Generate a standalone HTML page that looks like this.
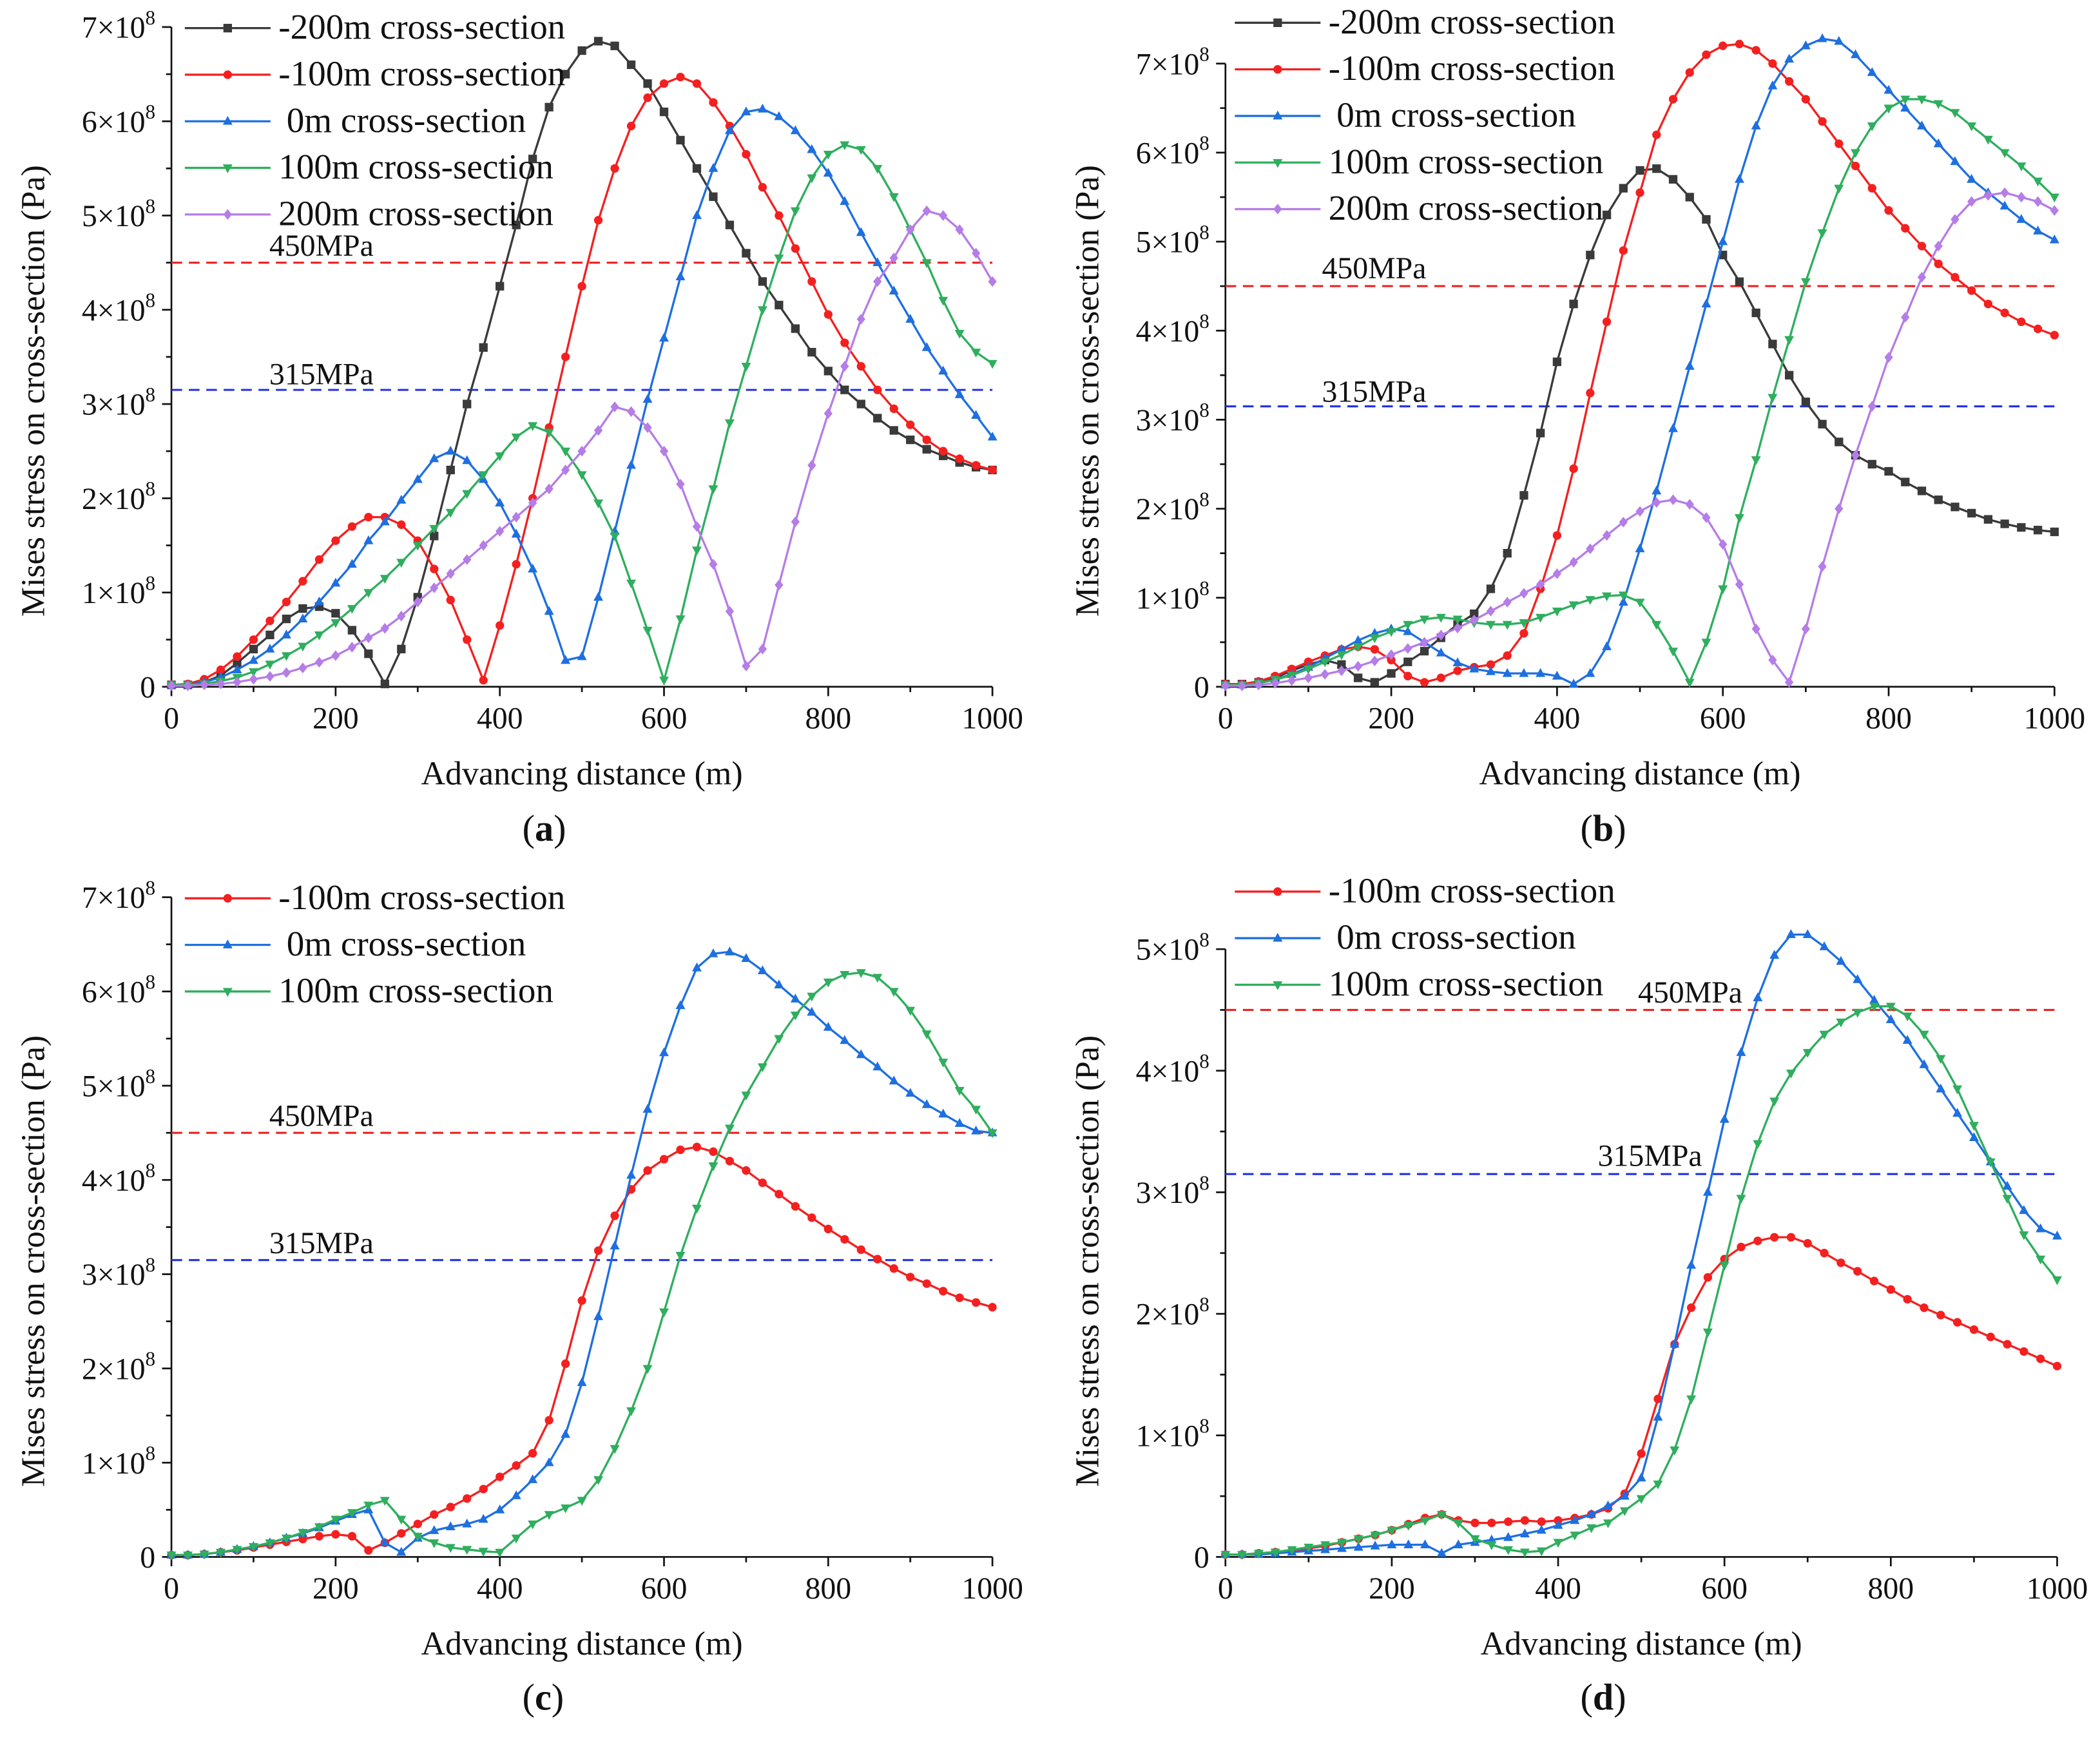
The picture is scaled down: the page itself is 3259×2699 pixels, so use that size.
<!DOCTYPE html>
<html><head><meta charset="utf-8"><style>
html,body{margin:0;padding:0;background:#fff;}
svg{display:block;}
svg text{font-family:"Liberation Serif","DejaVu Serif",serif;fill:#111;}
</style></head><body>
<svg id="fig" xmlns="http://www.w3.org/2000/svg" width="3259" height="2699" viewBox="0 0 1568 1299" preserveAspectRatio="none" font-family="Liberation Serif, DejaVu Serif, serif"></svg>
<script>
// Data (values in units of 1e8 Pa), sampled every 20 m from 0 to 1000 m
const aM200=[0.02,0.02,0.05,0.12,0.25,0.4,0.55,0.72,0.83,0.85,0.78,0.6,0.35,0.03,0.4,0.95,1.6,2.3,3.0,3.6,4.25,4.9,5.6,6.15,6.5,6.75,6.85,6.8,6.6,6.4,6.1,5.8,5.5,5.2,4.9,4.6,4.3,4.05,3.8,3.55,3.35,3.15,3.0,2.85,2.72,2.62,2.52,2.45,2.38,2.33,2.3];
const aM100=[0.02,0.03,0.08,0.18,0.32,0.5,0.7,0.9,1.12,1.35,1.55,1.7,1.8,1.8,1.72,1.55,1.25,0.92,0.5,0.07,0.65,1.3,2.0,2.75,3.5,4.25,4.95,5.5,5.95,6.25,6.4,6.47,6.4,6.2,5.95,5.65,5.3,5.0,4.65,4.3,3.95,3.65,3.4,3.15,2.95,2.78,2.62,2.5,2.42,2.35,2.3];
const a0=[0.02,0.02,0.05,0.1,0.18,0.28,0.4,0.55,0.72,0.9,1.1,1.3,1.55,1.75,1.98,2.2,2.42,2.5,2.4,2.2,1.95,1.62,1.25,0.8,0.28,0.32,0.95,1.65,2.35,3.05,3.7,4.35,5.0,5.5,5.9,6.1,6.13,6.05,5.9,5.7,5.45,5.15,4.82,4.5,4.2,3.9,3.6,3.35,3.1,2.88,2.65];
const aP100=[0.02,0.02,0.03,0.06,0.1,0.16,0.24,0.33,0.43,0.55,0.68,0.83,1.0,1.15,1.32,1.5,1.68,1.85,2.05,2.25,2.45,2.65,2.77,2.7,2.5,2.25,1.95,1.6,1.1,0.6,0.07,0.72,1.45,2.1,2.8,3.4,4.0,4.55,5.05,5.4,5.65,5.75,5.7,5.5,5.2,4.85,4.5,4.1,3.75,3.55,3.43];
const aP200=[0.01,0.01,0.02,0.03,0.05,0.08,0.11,0.15,0.2,0.26,0.33,0.42,0.52,0.62,0.75,0.9,1.05,1.2,1.35,1.5,1.65,1.8,1.95,2.1,2.3,2.5,2.72,2.97,2.92,2.75,2.5,2.15,1.7,1.3,0.8,0.22,0.4,1.08,1.75,2.35,2.9,3.4,3.9,4.3,4.55,4.85,5.05,5.0,4.85,4.6,4.3];
const bM200=[0.03,0.03,0.05,0.1,0.18,0.25,0.3,0.25,0.1,0.05,0.15,0.28,0.4,0.55,0.7,0.82,1.1,1.5,2.15,2.85,3.65,4.3,4.85,5.3,5.6,5.8,5.82,5.7,5.5,5.25,4.85,4.55,4.2,3.85,3.5,3.2,2.95,2.75,2.6,2.5,2.42,2.3,2.2,2.1,2.02,1.95,1.88,1.83,1.79,1.76,1.74];
const bM100=[0.03,0.03,0.06,0.12,0.2,0.28,0.35,0.42,0.45,0.42,0.3,0.12,0.05,0.1,0.18,0.22,0.25,0.35,0.6,1.1,1.7,2.45,3.3,4.1,4.9,5.55,6.2,6.6,6.9,7.1,7.2,7.22,7.15,7.0,6.8,6.6,6.35,6.1,5.85,5.6,5.35,5.15,4.95,4.75,4.6,4.45,4.3,4.2,4.1,4.02,3.95];
const b0=[0.02,0.02,0.04,0.08,0.14,0.22,0.32,0.42,0.52,0.6,0.65,0.62,0.5,0.38,0.27,0.2,0.17,0.15,0.15,0.15,0.12,0.03,0.15,0.45,0.95,1.55,2.2,2.9,3.6,4.3,5.0,5.7,6.3,6.75,7.05,7.2,7.28,7.25,7.1,6.9,6.7,6.5,6.3,6.1,5.9,5.7,5.55,5.4,5.25,5.12,5.02];
const bP100=[0.02,0.02,0.04,0.08,0.13,0.2,0.28,0.36,0.45,0.55,0.62,0.7,0.76,0.78,0.76,0.72,0.7,0.7,0.72,0.78,0.85,0.92,0.98,1.02,1.03,0.95,0.7,0.4,0.05,0.5,1.1,1.9,2.55,3.25,3.9,4.55,5.1,5.6,6.0,6.3,6.5,6.6,6.6,6.55,6.45,6.3,6.15,6.0,5.85,5.68,5.5];
const bP200=[0.01,0.01,0.02,0.04,0.07,0.1,0.14,0.18,0.23,0.29,0.36,0.43,0.5,0.58,0.66,0.75,0.85,0.95,1.05,1.15,1.27,1.4,1.55,1.7,1.85,1.97,2.07,2.1,2.05,1.9,1.6,1.15,0.65,0.3,0.05,0.65,1.35,2.0,2.6,3.15,3.7,4.15,4.6,4.95,5.25,5.45,5.52,5.55,5.5,5.45,5.35];
const cM100=[0.02,0.02,0.03,0.05,0.07,0.1,0.13,0.16,0.19,0.22,0.24,0.22,0.07,0.15,0.25,0.35,0.45,0.53,0.62,0.72,0.85,0.97,1.1,1.45,2.05,2.72,3.25,3.62,3.9,4.1,4.22,4.32,4.35,4.3,4.2,4.1,3.97,3.85,3.72,3.6,3.48,3.37,3.26,3.16,3.06,2.97,2.9,2.82,2.75,2.7,2.65];
const c0=[0.02,0.02,0.03,0.05,0.08,0.11,0.15,0.2,0.25,0.31,0.38,0.45,0.5,0.15,0.05,0.2,0.28,0.32,0.35,0.4,0.5,0.65,0.82,1.0,1.3,1.85,2.55,3.3,4.05,4.75,5.35,5.85,6.25,6.4,6.42,6.35,6.22,6.07,5.92,5.78,5.62,5.48,5.33,5.2,5.05,4.92,4.8,4.7,4.6,4.52,4.5];
const cP100=[0.02,0.02,0.03,0.05,0.08,0.11,0.15,0.2,0.26,0.32,0.4,0.47,0.55,0.6,0.4,0.22,0.15,0.1,0.08,0.06,0.05,0.2,0.35,0.45,0.52,0.6,0.82,1.15,1.55,2.0,2.6,3.2,3.7,4.15,4.55,4.9,5.2,5.5,5.75,5.95,6.1,6.18,6.2,6.15,6.0,5.8,5.55,5.25,4.95,4.75,4.5];
const dM100=[0.02,0.02,0.03,0.04,0.05,0.07,0.09,0.12,0.15,0.18,0.22,0.27,0.32,0.35,0.3,0.28,0.28,0.29,0.3,0.29,0.3,0.32,0.35,0.4,0.52,0.85,1.3,1.75,2.05,2.3,2.45,2.55,2.6,2.63,2.63,2.58,2.5,2.42,2.35,2.27,2.2,2.12,2.05,1.99,1.93,1.87,1.81,1.75,1.69,1.63,1.57];
const d0=[0.02,0.02,0.02,0.03,0.04,0.05,0.06,0.07,0.08,0.09,0.1,0.1,0.1,0.03,0.1,0.12,0.14,0.16,0.19,0.22,0.26,0.3,0.35,0.42,0.5,0.65,1.15,1.75,2.4,3.0,3.6,4.15,4.6,4.95,5.12,5.12,5.02,4.9,4.75,4.58,4.42,4.25,4.05,3.85,3.65,3.45,3.25,3.05,2.85,2.7,2.64];
const dP100=[0.02,0.02,0.03,0.04,0.06,0.08,0.1,0.12,0.15,0.18,0.22,0.26,0.3,0.35,0.28,0.15,0.1,0.06,0.04,0.05,0.12,0.18,0.24,0.28,0.38,0.48,0.6,0.88,1.3,1.85,2.4,2.95,3.4,3.75,3.98,4.15,4.3,4.4,4.48,4.53,4.53,4.45,4.3,4.1,3.85,3.55,3.25,2.95,2.65,2.45,2.28];
const xTicks=[0,200,400,600,800,1000];
const limits=[4.5,3.15];
const limitLabels=['450MPa','315MPa'];

const NS='http://www.w3.org/2000/svg';
const svg=document.getElementById('fig');
function el(tag,attrs,parent){const e=document.createElementNS(NS,tag);for(const k in attrs)e.setAttribute(k,attrs[k]);(parent||svg).appendChild(e);return e;}
const COL={k:'#3a3a3a',r:'#f42020',b:'#1e6fe0',g:'#2fae5e',p:'#b57de6'};
const S5=[['-200m cross-section','k','sq'],['-100m cross-section','r','ci'],['0m cross-section','b','tu'],['100m cross-section','g','td'],['200m cross-section','p','di']];
const S3=S5.slice(1,4);
const panels=[
 {id:'a',L:128,R:741,B:513,ppu:70.4,ymax:7,data:[aM200,aM100,a0,aP100,aP200],S:S5,lx:138,ly:21,ytx:25,yty:292,lab:[390,628],lim:[[240,183],[240,279]]},
 {id:'b',L:915,R:1534,B:513,ppu:66.5,ymax:7,data:[bM200,bM100,b0,bP100,bP200],S:S5,lx:922,ly:17,ytx:812,yty:292,lab:[1180,628],lim:[[1026,200],[1026,292]]},
 {id:'c',L:128,R:741,B:1163,ppu:70.4,ymax:7,data:[cM100,c0,cP100],S:S3,lx:138,ly:671,ytx:25,yty:942,lab:[390,1277],lim:[[240,833],[240,928]]},
 {id:'d',L:915,R:1536,B:1163,ppu:90.8,ymax:5,data:[dM100,d0,dP100],S:S3,lx:922,ly:666,ytx:812,yty:942,lab:[1180,1277],lim:[[1262,741],[1232,863]]}
];
function marker(g,type,x,y,c){
 const r=3.2;
 if(type==='sq')el('rect',{x:x-r,y:y-r,width:2*r,height:2*r,fill:c},g);
 else if(type==='ci')el('circle',{cx:x,cy:y,r:r,fill:c},g);
 else if(type==='tu')el('polygon',{points:`${x},${y-r-0.8} ${x-r-0.4},${y+r-0.6} ${x+r+0.4},${y+r-0.6}`,fill:c},g);
 else if(type==='td')el('polygon',{points:`${x},${y+r+0.8} ${x-r-0.4},${y-r+0.6} ${x+r+0.4},${y-r+0.6}`,fill:c},g);
 else el('polygon',{points:`${x},${y-r-0.8} ${x+r},${y} ${x},${y+r+0.8} ${x-r},${y}`,fill:c},g);
}
panels.forEach(P=>{
 const g=el('g',{});
 
 
 const xs=v=>P.L+(P.R-P.L)*v/1000;
 const ys=v=>P.B-v*P.ppu;
 const ax=el('g',{stroke:'#111','stroke-width':1.3,fill:'none'},g);
 
 
 el('line',{x1:P.L,y1:P.B,x2:P.R,y2:P.B},ax);
 el('line',{x1:P.L,y1:P.B,x2:P.L,y2:ys(P.ymax)},ax);
 for(let v=0;v<=1000;v+=100){el('line',{x1:xs(v),y1:P.B,x2:xs(v),y2:P.B+(v%200===0?7:4)},ax);}
 for(let v=0;v<=P.ymax;v+=0.5){el('line',{x1:P.L,y1:ys(v),x2:P.L-(v%1===0?7:4),y2:ys(v)},ax);}
 xTicks.forEach(v=>{const t=el('text',{x:xs(v),y:P.B+31,'font-size':23,'text-anchor':'middle'},g);t.textContent=v;
  
  });
 for(let v=0;v<=P.ymax;v++){
  const t=el('text',{x:P.L-12,y:ys(v)+8,'font-size':23,'text-anchor':'end'},g);
  
  
  if(v===0)t.textContent='0';else{t.textContent=v+'×10';const s=el('tspan',{dy:-10,'font-size':15},t);s.textContent='8';}
 }
 const xt=el('text',{x:(P.L+P.R)/2,y:P.B+73,'font-size':25,'text-anchor':'middle'},g);xt.textContent='Advancing distance (m)';
 
 
 const yt=el('text',{x:0,y:0,'font-size':25,'text-anchor':'middle',transform:`translate(${P.ytx+8},${P.yty}) rotate(-90)`},g);yt.textContent='Mises stress on cross-section  (Pa)';
 
 
 const pl=el('text',{x:P.lab[0],y:P.lab[1],'font-size':28},g);pl.textContent='(';const bt=el('tspan',{'font-weight':'bold'},pl);bt.textContent=P.id;const t2=el('tspan',{},pl);t2.textContent=')';
 
 
 limits.forEach((v,i)=>{
  const ln=el('line',{x1:P.L,y1:ys(v),x2:P.R,y2:ys(v),stroke:i?'#2030e8':'#ee2020','stroke-width':1.5,'stroke-dasharray':'8,5'},g);
  
  
  const lt=el('text',{x:P.lim[i][0],y:P.lim[i][1]+8,'font-size':23,'text-anchor':'middle'},g);lt.textContent=limitLabels[i];
  
  
 });
 P.data.forEach((arr,si)=>{
  const [name,ck,mk]=P.S[si];const c=COL[ck];
  const sg=el('g',{},g);
  
  
  const pts=arr.map((v,i)=>xs(i*20).toFixed(1)+','+ys(v).toFixed(1)).join(' ');
  el('polyline',{points:pts,fill:'none',stroke:c,'stroke-width':1.6},sg);
  arr.forEach((v,i)=>marker(sg,mk,xs(i*20),ys(v),c));
  const ly=P.ly+si*34.8;
  const lg=el('g',{},g);
  
  
  el('line',{x1:P.lx,y1:ly,x2:P.lx+64,y2:ly,stroke:c,'stroke-width':1.6},lg);
  marker(lg,mk,P.lx+32,ly,c);
  const tx=el('text',{x:P.lx+70+(mk==='tu'?6:0),y:ly+8,'font-size':26.5},lg);tx.textContent=name;
 });
});
</script>
</body></html>
